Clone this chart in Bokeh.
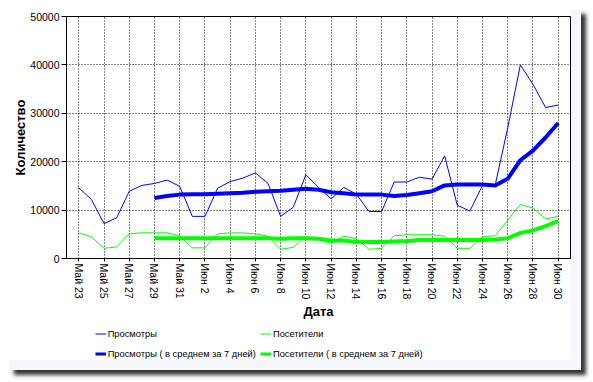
from bokeh.plotting import figure
from bokeh.layouts import column
from bokeh.models import FixedTicker, Legend, LegendItem, Range1d
from bokeh.embed import file_html
from bokeh.resources import INLINE

dates = ["Май 23", "Май 24", "Май 25", "Май 26", "Май 27", "Май 28", "Май 29", "Май 30", "Май 31",
         "Июн 1", "Июн 2", "Июн 3", "Июн 4", "Июн 5", "Июн 6", "Июн 7", "Июн 8", "Июн 9", "Июн 10",
         "Июн 11", "Июн 12", "Июн 13", "Июн 14", "Июн 15", "Июн 16", "Июн 17", "Июн 18", "Июн 19", "Июн 20",
         "Июн 21", "Июн 22", "Июн 23", "Июн 24", "Июн 25", "Июн 26", "Июн 27", "Июн 28", "Июн 29", "Июн 30"]

views = [14600, 12200, 7200, 8400, 13900, 15100, 15500, 16200, 14900,
         8700, 8700, 14500, 15900, 16600, 17700, 15500, 8700, 10600, 17300,
         14700, 12300, 14700, 13300, 9700, 9700, 15800, 15800, 16800, 16400,
         21200, 11000, 9800, 15100, 15100, 27000, 40000, 36000, 31200, 31700]

visitors = [5300, 4500, 2100, 2400, 5100, 5300, 5300, 5300, 4700,
            2200, 2200, 5100, 5300, 5300, 5100, 4600, 1900, 2300, 4500,
            4000, 3100, 4600, 4100, 1900, 2100, 4700, 4900, 4900, 4900,
            4600, 2100, 2100, 4500, 4700, 7900, 11200, 10400, 8200, 8700]

# 7-day averages, starting at "Май 29"
avg_dates = dates[6:]
views_avg = [12500, 12900, 13200,
             13300, 13300, 13400, 13500, 13600, 13800, 13900, 14000, 14200, 14400,
             14200, 13700, 13500, 13200, 13200, 13200, 12900, 13100, 13500, 13900,
             15100, 15300, 15300, 15300, 15100, 16500, 20300, 22300, 25000, 28000]
visitors_avg = [4200, 4200, 4200,
                4200, 4200, 4200, 4200, 4200, 4200, 4200, 4100, 4200, 4200,
                4100, 3700, 3700, 3400, 3400, 3400, 3500, 3600, 3800, 3800,
                3800, 3800, 3800, 3800, 3900, 4200, 5300, 5800, 6700, 7700]

series_names = ["Просмотры", "Посетители",
                "Просмотры ( в среднем за 7 дней)", "Посетители ( в среднем за 7 дней)"]

y_ticks = [0, 10000, 20000, 30000, 40000, 50000]
x_tick_idx = list(range(0, len(dates), 2))

FONT = "Liberation Sans"
BLUE = "#0000ff"
GREEN = "#00ff00"

x_all = [dates.index(d) for d in dates]
x_avg = [dates.index(d) for d in avg_dates]

p = figure(width=562, height=313,
           x_range=Range1d(-0.975, len(dates) - 1 + 0.975), y_range=Range1d(0, 50000),
           output_backend="svg", toolbar_location=None,
           min_border_left=57, min_border_right=1, min_border_top=7, min_border_bottom=63)

p.background_fill_color = "white"
p.border_fill_color = "white"
p.outline_line_color = "black"
p.outline_line_width = 1

p.line(x_all, views, line_color=BLUE, line_width=1)
p.line(x_all, visitors, line_color=GREEN, line_width=1)
p.line(x_avg, views_avg, line_color=BLUE, line_width=4)
p.line(x_avg, visitors_avg, line_color=GREEN, line_width=4)

# axes
xa = p.xaxis[0]
xa.ticker = FixedTicker(ticks=x_tick_idx)
xa.major_label_overrides = {i: dates[i] for i in x_tick_idx}
xa.major_label_orientation = "vertical"
xa.axis_label = "Дата"
xa.major_tick_out = 3
xa.major_tick_in = 0
xa.minor_tick_line_color = None
xa.major_label_standoff = 2
xa.axis_label_standoff = 2

ya = p.yaxis[0]
ya.ticker = FixedTicker(ticks=y_ticks)
ya.major_label_overrides = {t: str(t) for t in y_ticks}
ya.axis_label = "Количество"
ya.major_tick_out = 5
ya.major_tick_in = 0
ya.minor_tick_line_color = None
ya.major_label_standoff = 2
ya.axis_label_standoff = -1

for ax in (xa, ya):
    ax.axis_line_color = "black"
    ax.major_tick_line_color = "black"
    ax.major_label_text_font = FONT
    ax.major_label_text_font_size = "10.5px"
    ax.major_label_text_color = "black"
    ax.axis_label_text_font = FONT
    ax.axis_label_text_font_size = "13px"
    ax.axis_label_text_font_style = "bold"
    ax.axis_label_text_color = "black"

p.xgrid.ticker = FixedTicker(ticks=x_tick_idx)
p.ygrid.ticker = FixedTicker(ticks=y_ticks)
for g in (p.xgrid, p.ygrid):
    g.grid_line_color = "black"
    g.grid_line_dash = "1 2"
    g.grid_line_width = 1

# legend strip below the chart (series drawn out of view; only the legend shows)
lf = figure(width=562, height=38, x_range=Range1d(0, 1), y_range=Range1d(-2, -1),
            x_axis_type=None, y_axis_type=None, output_backend="svg", toolbar_location=None,
            min_border=0, min_border_left=0, min_border_right=0, min_border_top=0, min_border_bottom=0)
lf.outline_line_color = None
lf.background_fill_color = "white"
lf.border_fill_color = "white"
lf.xgrid.visible = False
lf.ygrid.visible = False

l1 = lf.line(x_all, views, line_color=BLUE, line_width=1)
l2 = lf.line(x_all, visitors, line_color=GREEN, line_width=1)
l3 = lf.line(x_avg, views_avg, line_color=BLUE, line_width=3)
l4 = lf.line(x_avg, visitors_avg, line_color=GREEN, line_width=3)

def make_legend(items, loc):
    return Legend(items=items, location=loc, orientation="vertical",
                  glyph_width=11, glyph_height=13, label_height=13, label_standoff=2,
                  spacing=7, padding=0, margin=0,
                  label_text_font=FONT, label_text_font_size="9.3px", label_text_color="black",
                  background_fill_alpha=0, border_line_color=None)

leg1 = make_legend([LegendItem(label=series_names[0], renderers=[l1]),
                    LegendItem(label=series_names[2], renderers=[l3])], (28.7, 0))
leg2 = make_legend([LegendItem(label=series_names[1], renderers=[l2]),
                    LegendItem(label=series_names[3], renderers=[l4])], (194, 0))
lf.add_layout(leg1, "center")
lf.add_layout(leg2, "center")

lay = column(p, lf, spacing=0)
lay.styles = {"margin-left": "9px", "margin-top": "9px",
              "border-right": "10px solid #f6f7fc", "border-bottom": "10px solid #f6f7fc",
              "box-shadow": "5px 5px 4px #333333"}

open("out.html", "w").write(file_html(lay, INLINE))
